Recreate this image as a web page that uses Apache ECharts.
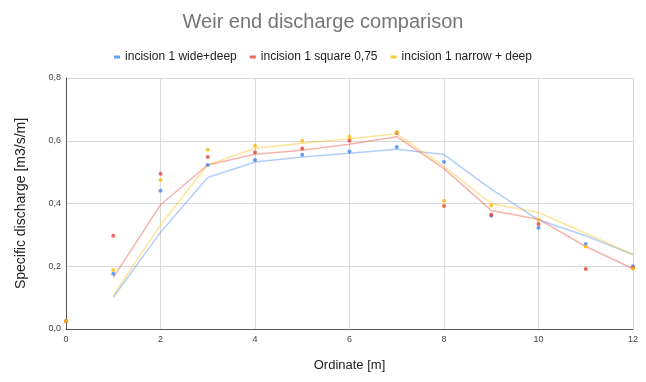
<!DOCTYPE html>
<html>
<head>
<meta charset="utf-8">
<script src="https://cdn.jsdelivr.net/npm/echarts@6/dist/echarts.min.js"></script>
<style>
  html, body { margin: 0; padding: 0; background: #fff; }
  #chart { width: 646px; height: 382px; }
</style>
</head>
<body>
<div id="chart"></div>
<script>
// Ordenadas (eje x) y valores medidos
const ordinate = [0, 1, 2, 3, 4, 5, 6, 7, 8, 9, 10, 11, 12];
const wideDeep = [0.025, 0.176, 0.441, 0.523, 0.539, 0.555, 0.566, 0.580, 0.532, 0.361, 0.323, 0.271, 0.200];
const square075 = [0.025, 0.297, 0.495, 0.548, 0.563, 0.575, 0.600, 0.625, 0.392, 0.364, 0.335, 0.191, 0.195];
const narrowDeep = [0.025, 0.188, 0.475, 0.571, 0.584, 0.600, 0.613, 0.628, 0.409, 0.394, 0.348, 0.263, 0.192];

// Líneas de tendencia (desde x = 1)
const trendX = [1, 2, 3, 4, 5, 6, 7, 8, 9, 10, 11, 12];
const wideTrend = [0.101, 0.308, 0.483, 0.532, 0.548, 0.560, 0.573, 0.556, 0.446, 0.348, 0.297, 0.237];
const squareTrend = [0.164, 0.396, 0.523, 0.557, 0.570, 0.589, 0.613, 0.511, 0.378, 0.350, 0.263, 0.192];
const narrowTrend = [0.107, 0.332, 0.523, 0.576, 0.592, 0.606, 0.622, 0.518, 0.400, 0.371, 0.305, 0.237];

const names = ["incision 1 wide+deep", "incision 1 square 0,75", "incision 1 narrow + deep"];
const colors = ["#4285F4", "#EA4335", "#FBBC04"];

const pts = [wideDeep, square075, narrowDeep];
const trends = [wideTrend, squareTrend, narrowTrend];

const pair = (xs, ys) => xs.map((x, i) => [x, ys[i]]);

const series = [];
trends.forEach((t, i) => {
  series.push({
    name: names[i] + " trend",
    type: "line",
    data: pair(trendX, t),
    showSymbol: false,
    silent: true,
    lineStyle: { color: colors[i], width: 1.5, opacity: 0.4 },
    z: 1,
  });
});
pts.forEach((p, i) => {
  series.push({
    name: names[i],
    type: "scatter",
    data: pair(ordinate, p),
    symbol: "circle",
    symbolSize: 4,
    itemStyle: { color: colors[i] },
    z: 5,
  });
});

const chart = echarts.init(document.getElementById("chart"));
chart.setOption({
  animation: false,
  textStyle: { fontFamily: "Arial, 'Liberation Sans', sans-serif" },
  title: {
    text: "Weir end discharge comparison",
    left: "center",
    top: 7,
    textStyle: { fontSize: 20, fontWeight: "normal", color: "#757575" },
  },
  legend: {
    data: names.map((n, i) => ({ name: n, icon: "rect", itemStyle: { color: colors[i] } })),
    top: 46,
    left: "center",
    itemWidth: 6,
    itemHeight: 3,
    itemGap: 13,
    textStyle: { fontSize: 12, color: "#222" },
  },
  grid: { left: 66, right: 13, top: 78, bottom: 53 },
  xAxis: {
    type: "value",
    min: 0,
    max: 12,
    interval: 2,
    name: "Ordinate [m]",
    nameLocation: "middle",
    nameGap: 30,
    nameTextStyle: { fontSize: 13, color: "#222" },
    axisLine: { lineStyle: { color: "#555" } },
    axisTick: { show: false },
    axisLabel: { fontSize: 9, color: "#444", margin: 6 },
    splitLine: { show: true, lineStyle: { color: "#d9d9d9" } },
  },
  yAxis: {
    type: "value",
    min: 0,
    max: 0.8,
    interval: 0.2,
    name: "Specific discharge [m3/s/m]",
    nameLocation: "middle",
    nameGap: 38,
    nameTextStyle: { fontSize: 14, color: "#222" },
    axisLine: { show: true, lineStyle: { color: "#555" } },
    axisTick: { show: false },
    axisLabel: {
      fontSize: 9,
      color: "#444",
      margin: 5,
      formatter: (v) => v.toFixed(1).replace(".", ","),
    },
    splitLine: { show: true, lineStyle: { color: "#d9d9d9" } },
  },
  series: series,
});
</script>
</body>
</html>
